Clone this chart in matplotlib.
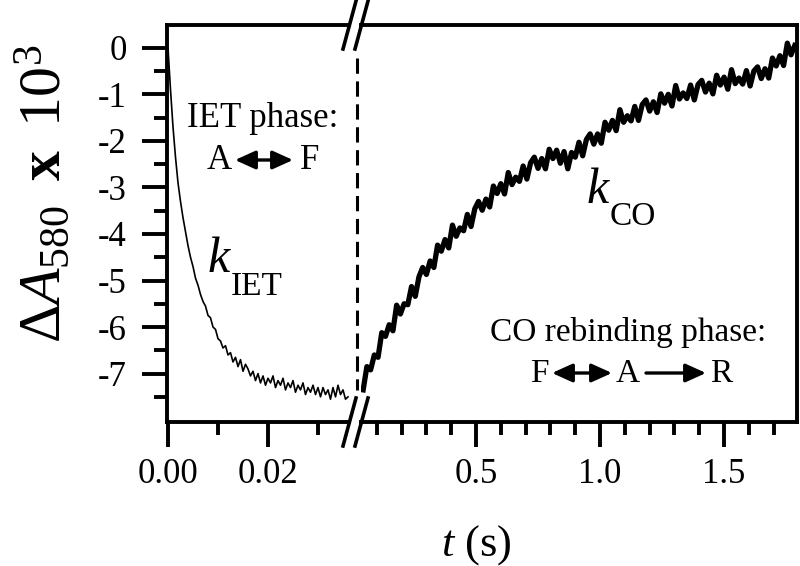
import numpy as np
import matplotlib.pyplot as plt
from matplotlib.lines import Line2D
from matplotlib.patches import FancyArrowPatch
from matplotlib.ticker import FixedLocator, MultipleLocator

plt.rcParams['font.family'] = ['Liberation Serif', 'DejaVu Serif']
plt.rcParams['axes.unicode_minus'] = False
plt.rcParams['mathtext.fontset'] = 'custom'
plt.rcParams['mathtext.rm'] = 'Liberation Serif'
plt.rcParams['mathtext.it'] = 'Liberation Serif:italic'
plt.rcParams['mathtext.bf'] = 'Liberation Serif:bold'

# fast phase (IET), sampled every 0.5 ms
t_iet = np.arange(0, 36.5, 0.5) / 1000.0
a_iet = [0.0, -0.9, -1.7, -2.35, -2.9, -3.3, -3.65, -3.95, -4.25, -4.5,
         -4.7, -4.95, -5.1, -5.3, -5.45, -5.55, -5.75, -5.8, -6.0, -6.05,
         -6.25, -6.3, -6.45, -6.4, -6.6, -6.55, -6.75, -6.65, -6.85, -6.7,
         -6.95, -6.8, -6.9, -7.05, -6.95, -7.15, -7.0, -7.2, -7.05, -7.25,
         -7.1, -7.2, -7.05, -7.3, -7.15, -7.25, -7.1, -7.35, -7.2, -7.3,
         -7.15, -7.4, -7.25, -7.35, -7.2, -7.45, -7.3, -7.4, -7.25, -7.45,
         -7.3, -7.5, -7.3, -7.45, -7.35, -7.55, -7.3, -7.5, -7.25, -7.45,
         -7.35, -7.55, -7.5]

# slow phase (CO rebinding), sampled every 15 ms from 45 ms
t_co = 0.045 + 0.015 * np.arange(117)
a_co = [-7.35, -6.85, -6.92, -6.6, -6.65, -6.12, -6.2, -5.95, -6.08, -5.53,
        -5.72, -5.5, -5.52, -5.13, -5.34, -4.92, -4.72, -4.87, -4.58, -4.72,
        -4.24, -4.37, -4.12, -4.3, -3.81, -4.05, -3.87, -3.93, -3.58, -3.84,
        -3.46, -3.3, -3.49, -3.25, -3.42, -2.97, -3.13, -2.92, -3.14, -2.68,
        -2.94, -2.78, -2.87, -2.54, -2.82, -2.47, -2.35, -2.59, -2.38, -2.6,
        -2.18, -2.38, -2.2, -2.48, -2.23, -2.6, -2.25, -2.35, -2.03, -2.32,
        -1.97, -1.85, -2.07, -1.85, -2.05, -1.6, -1.77, -1.56, -1.78, -1.33,
        -1.6, -1.46, -1.57, -1.26, -1.56, -1.22, -1.12, -1.36, -1.16, -1.39,
        -0.99, -1.19, -1.0, -1.25, -0.81, -1.1, -0.97, -1.09, -0.8, -1.12,
        -0.79, -0.7, -0.95, -0.76, -0.99, -0.59, -0.8, -0.63, -0.89, -0.47,
        -0.77, -0.65, -0.78, -0.49, -0.82, -0.5, -0.41, -0.66, -0.45, -0.65,
        -0.22, -0.39, -0.17, -0.38, 0.1, -0.15, 0.05]

y_ticks = [0, -1, -2, -3, -4, -5, -6, -7]
y_labels = ['0', '-1', '-2', '-3', '-4', '-5', '-6', '-7']
left_ticks = [0.0, 0.02]
left_labels = ['0.00', '0.02']
right_ticks = [0.5, 1.0, 1.5]
right_labels = ['0.5', '1.0', '1.5']

W, H = 800, 566


def fx(x):
    return x / W


def fy(y):
    return 1 - y / H


fig = plt.figure(figsize=(8, 5.66), dpi=100)
top, bot = 25, 422
ax1 = fig.add_axes([fx(167), fy(bot), (349 - 167) / W, (bot - top) / H])
ax2 = fig.add_axes([fx(361), fy(bot), (797 - 361) / W, (bot - top) / H])

ax1.plot(t_iet, a_iet, color='black', lw=1.2)
ax2.plot(t_co, a_co, color='black', lw=3.8)

ax1.set_xlim(-0.0002, 0.0362)
ax2.set_xlim(0.0363, 1.794)
for ax in (ax1, ax2):
    ax.set_ylim(-8.04, 0.49)
    for s in ax.spines.values():
        s.set_linewidth(2.8)
    ax.tick_params(which='major', length=18, width=2.8, labelsize=25)
    ax.tick_params(which='minor', length=9.4, width=2.8)
    ax.tick_params(top=False, right=False)
ax1.tick_params(axis='y', pad=11)
ax1.tick_params(axis='x', pad=8)
ax2.tick_params(axis='x', pad=8)

ax1.spines['right'].set_visible(False)
ax2.spines['left'].set_visible(False)

ax1.set_yticks(y_ticks)
ax1.set_yticklabels(y_labels)
ax1.yaxis.set_minor_locator(FixedLocator([v - 0.5 for v in y_ticks]))
ax1.set_xticks(left_ticks)
ax1.set_xticklabels(left_labels)
ax1.xaxis.set_minor_locator(FixedLocator([0.01, 0.03]))

ax2.tick_params(left=False, labelleft=False, which='both')
ax2.set_xticks(right_ticks)
ax2.set_xticklabels(right_labels)
ax2.xaxis.set_minor_locator(MultipleLocator(0.1))

# axis break marks and dashed separator
for yc in (top, bot):
    for x0 in (343, 355):
        fig.add_artist(Line2D([fx(x0), fx(x0 + 13)], [fy(yc + 24), fy(yc - 24)],
                              color='black', lw=2.6))
fig.add_artist(Line2D([fx(357), fx(357)], [fy(58), fy(390)], color='black',
                      lw=2.2, ls=(0, (5, 2.5))))


def arrow(x0, x1, y, style):
    fig.add_artist(FancyArrowPatch((fx(x0), fy(y)), (fx(x1), fy(y)),
                                   transform=fig.transFigure, arrowstyle=style,
                                   mutation_scale=20, lw=2.4, color='black',
                                   shrinkA=0, shrinkB=0))


head = 'head_length=0.62,head_width=0.28'
fs = 25
fig.text(fx(187), fy(127), 'IET phase:', size=fs, va='baseline')
fig.text(fx(207), fy(169), 'A', size=fs, va='baseline')
fig.text(fx(300), fy(169), 'F', size=fs, va='baseline')
arrow(235, 293, 160, '<|-|>,' + head)

fig.text(fx(208), fy(272), 'k', size=36, style='italic', va='baseline')
fig.text(fx(231), fy(295), 'IET', size=24, va='baseline')
fig.text(fx(587), fy(203), 'k', size=36, style='italic', va='baseline')
fig.text(fx(610), fy(225), 'CO', size=24, va='baseline')

fig.text(fx(490), fy(341), 'CO rebinding phase:', size=24, va='baseline')
fig.text(fx(530), fy(382), 'F', size=24, va='baseline')
arrow(552, 612, 373, '<|-|>,' + head)
fig.text(fx(616), fy(382), 'A', size=24, va='baseline')
arrow(646, 706, 373, '-|>,' + head)
fig.text(fx(710), fy(382), 'R', size=24, va='baseline')

fig.text(fx(45), fy(194), r'$\mathit{ΔA}_{580}\;\;\mathbf{x}\;\;10^{3}$',
         size=43, rotation=90, ha='center', va='center')
fig.text(fx(476), fy(556), r'$\mathit{t}$ (s)', size=32, ha='center', va='baseline')

fig.savefig('out.png', dpi=100)
